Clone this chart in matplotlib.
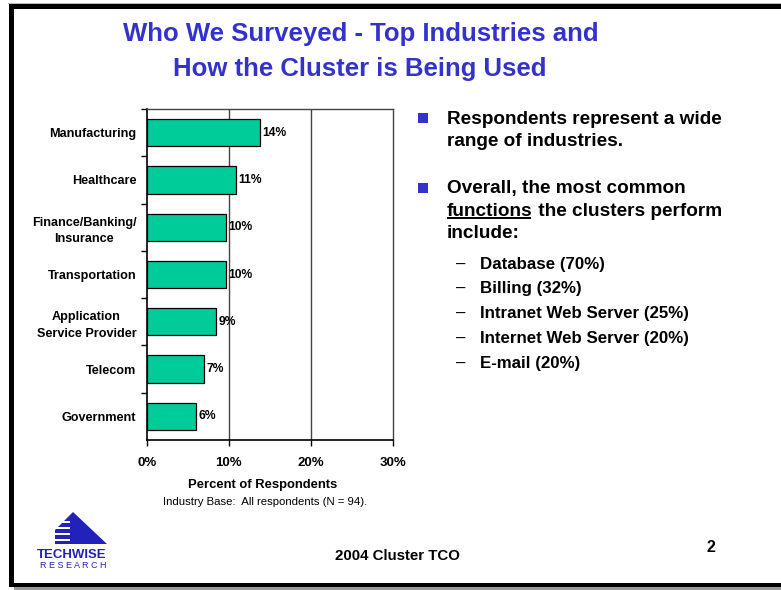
"""
Survey slide: top industries of respondents and how the cluster is used.
"""
import matplotlib
matplotlib.use('Agg')
import matplotlib.pyplot as plt
from matplotlib.patches import Polygon, Rectangle

plt.rcParams['font.family'] = ['Liberation Sans', 'DejaVu Sans']

# Data
industries = ['Manufacturing', 'Healthcare', 'Finance/Banking/\nInsurance',
              'Transportation', 'Application\nService Provider', 'Telecom',
              'Government']
shares = [13.8, 10.9, 9.6, 9.6, 8.5, 7.0, 6.0]
share_labels = ['14%', '11%', '10%', '10%', '9%', '7%', '6%']
x_ticks = [0, 10, 20, 30]
x_tick_labels = ['0%', '10%', '20%', '30%']

functions = ['Database', 'Billing', 'Intranet Web Server',
             'Internet Web Server', 'E-mail']
function_pcts = [70, 32, 25, 20, 20]

W, H = 781, 590
BLUE = '#3333CC'
BAR_GREEN = '#00CC99'

fig = plt.figure(figsize=(W / 100, H / 100), dpi=100)

# background axes in pixel coordinates for slide decorations
bg = fig.add_axes([0, 0, 1, 1])
bg.set_xlim(0, W)
bg.set_ylim(H, 0)
bg.axis('off')

# slide frame with shadow
bg.add_patch(Rectangle((8, 2.5), W, 1.5, facecolor='#bbbbbb', edgecolor='none'))
bg.add_patch(Rectangle((9, 4), W, 4.5, facecolor='black', edgecolor='none'))
bg.add_patch(Rectangle((9, 4), 4.5, 583, facecolor='black', edgecolor='none'))
bg.add_patch(Rectangle((9, 582.5), W, 4.5, facecolor='black', edgecolor='none'))
bg.add_patch(Rectangle((14, 587), W, 3, facecolor='#999999', edgecolor='none'))

# title
bg.text(361, 34, 'Who We Surveyed - Top Industries and', ha='center', va='center',
        fontsize=18.5, fontweight='bold', color=BLUE)
bg.text(360, 69, 'How the Cluster is Being Used', ha='center', va='center',
        fontsize=18.5, fontweight='bold', color=BLUE)

# right-hand bullet text
BODY = 13.7
SUB = 12.2


def bullet(y):
    bg.add_patch(Rectangle((418, y - 5), 10, 10, facecolor=BLUE, edgecolor='none'))


bullet(118)
bg.text(447, 119, 'Respondents represent a wide', va='center', fontsize=BODY, fontweight='bold')
bg.text(447, 142, 'range of industries.', va='center', fontsize=BODY, fontweight='bold')

bullet(188)
bg.text(447, 188, 'Overall, the most common', va='center', fontsize=BODY, fontweight='bold')
t_func = bg.text(447, 211, 'functions', va='center', fontsize=BODY, fontweight='bold')
fig.canvas.draw()
ext = t_func.get_window_extent(renderer=fig.canvas.get_renderer())
inv = bg.transData.inverted()
(fx0, fy0), (fx1, fy1) = inv.transform([(ext.x0, ext.y0), (ext.x1, ext.y1)])
bg.text(fx1, 211, ' the clusters perform', va='center',
        fontsize=BODY, fontweight='bold')
bg.plot([fx0, fx1 - 2], [fy0 - 1.5, fy0 - 1.5], color='black', lw=1.4,
        solid_capstyle='butt')
bg.text(447, 234, 'include:', va='center', fontsize=BODY, fontweight='bold')

for i, (name, pct) in enumerate(zip(functions, function_pcts)):
    y = 264 + i * 24.8
    bg.text(461, y, '–', va='center', ha='center', fontsize=SUB)
    bg.text(480, y, f'{name} ({pct}%)', va='center', fontsize=SUB, fontweight='bold')

# chart axes
ax = fig.add_axes([146.7 / W, 1 - 440 / H, (393 - 146.7) / W, 331 / H])
ypos = list(range(len(industries)))
ax.barh(ypos, shares, height=0.58, color=BAR_GREEN, edgecolor='black',
        linewidth=0.9, zorder=3)
for y, v, lab in zip(ypos, shares, share_labels):
    ax.text(v + 0.3, y, lab, va='center', ha='left', fontsize=8.7,
            fontweight='bold', zorder=4)

ax.set_xlim(0, 30)
ax.set_ylim(len(industries) - 0.5, -0.5)
for gx in x_ticks[1:-1]:
    ax.axvline(gx, color='#444444', lw=1, zorder=1)

ax.set_xticks(x_ticks)
ax.set_xticklabels(x_tick_labels, fontsize=9.5, fontweight='bold')
ax.tick_params(axis='x', direction='out', length=4, width=1, pad=8)

ax.set_yticks(ypos)
ax.set_yticklabels(industries, fontsize=9.1, fontweight='bold', linespacing=1.5)
for lab in ax.get_yticklabels():
    lab.set_multialignment('center')
ax.set_yticks([y + 0.5 for y in ypos[:-1]] + [-0.5], minor=True)
ax.tick_params(axis='y', which='major', length=0, pad=7.5)
ax.tick_params(axis='y', which='minor', direction='out', length=4, width=1)

for side in ['left', 'bottom']:
    ax.spines[side].set_color('black')
    ax.spines[side].set_linewidth(1.2)
for side in ['top', 'right']:
    ax.spines[side].set_color('#444444')
    ax.spines[side].set_linewidth(1)

bg.text(263, 485, 'Percent of Respondents', ha='center', va='center',
        fontsize=9.4, fontweight='bold')
bg.text(265, 502, 'Industry Base:  All respondents (N = 94).', ha='center',
        va='center', fontsize=8.2)

# footer
bg.text(397, 556, '2004 Cluster TCO', ha='center', va='center', fontsize=10.8,
        fontweight='bold')
bg.text(711, 547, '2', ha='center', va='center', fontsize=11.5, fontweight='bold')

# logo
LOGO = '#2222BB'
bg.add_patch(Polygon([(73, 512), (107, 544), (55, 544), (55, 530)],
                     closed=True, facecolor=LOGO, edgecolor='none'))
for sy in [521, 527, 533, 539]:
    bg.add_patch(Rectangle((54, sy), 16, 1.6, facecolor='white', edgecolor='none'))
bg.text(72, 555, 'TECHWISE', ha='center', va='center', fontsize=9.5,
        fontweight='bold', color=LOGO)
bg.text(73, 566, 'R E S E A R C H', ha='center', va='center', fontsize=6.5,
        color=LOGO)

fig.savefig('out.png', dpi=100)
